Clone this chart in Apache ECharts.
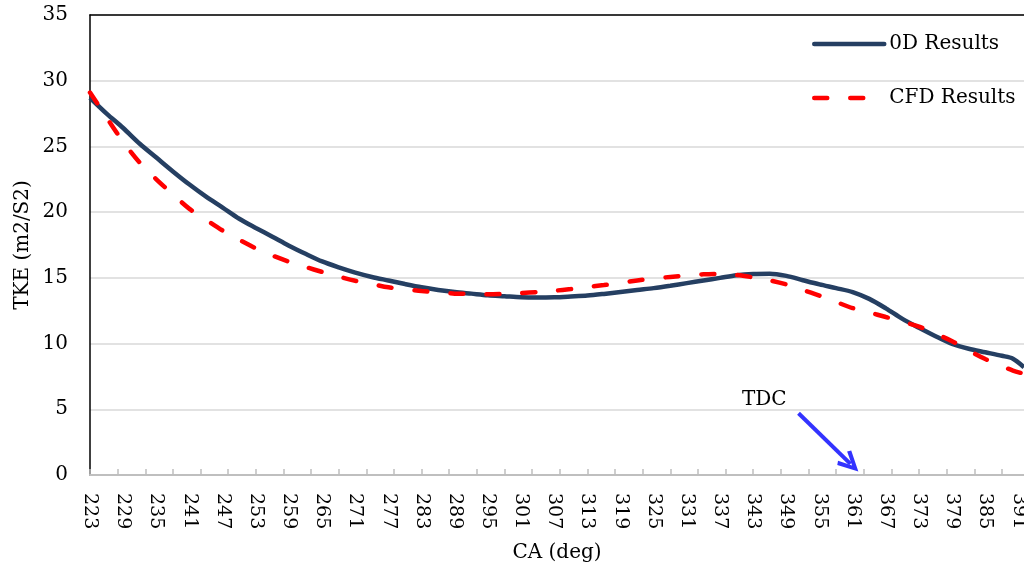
<!DOCTYPE html>
<html>
<head>
<meta charset="utf-8">
<script src="https://cdn.jsdelivr.net/npm/echarts@6/dist/echarts.min.js"></script>
<style>
html,body{margin:0;padding:0;background:#fff;}
#chart{width:1024px;height:569px;}
</style>
</head>
<body>
<div id="chart"></div>
<script>
// Crank angle categories for the axis (1 deg steps)
var caStart = 223, caEnd = 392;
var categories = [];
for (var c = caStart; c <= caEnd; c++) categories.push(String(c));

var angles = [223,226,229,232,235,238,241,244,247,250,253,256,259,262,265,268,271,274,277,280,283,286,289,292,295,298,301,304,307,310,313,316,319,322,325,328,331,334,337,340,343,346,349,352,355,358,361,364,367,370,373,376,379,382,385,388,390,392];
var od  = [28.7,27.5,26.4,25.2,24.15,23.1,22.1,21.18,20.35,19.5,18.8,18.13,17.45,16.83,16.25,15.8,15.4,15.07,14.8,14.53,14.28,14.08,13.92,13.8,13.68,13.6,13.52,13.5,13.52,13.58,13.65,13.78,13.93,14.08,14.22,14.4,14.6,14.8,15.0,15.2,15.3,15.32,15.15,14.82,14.5,14.22,13.92,13.4,12.68,11.88,11.2,10.56,9.98,9.61,9.34,9.07,8.85,8.2];
var cfd = [29.1,27.2,25.35,23.77,22.5,21.35,20.25,19.42,18.6,17.9,17.25,16.7,16.23,15.83,15.45,15.1,14.78,14.53,14.28,14.14,14.0,13.9,13.8,13.78,13.75,13.78,13.84,13.92,14.02,14.15,14.3,14.45,14.62,14.8,14.95,15.07,15.18,15.27,15.3,15.22,15.04,14.81,14.5,14.08,13.65,13.17,12.7,12.37,12.02,11.67,11.29,10.75,10.18,9.47,8.82,8.28,7.95,7.7];

// TDC annotation (data coordinates)
var tdcLabel = [345.0, 5.7];
var tdcArrowStart = [351.2, 4.7];
var tdcArrowEnd = [360.6, 0.85];

var yTicks = {min: 0, max: 35, interval: 5};

function pairs(xs, ys){ return xs.map(function(x,i){ return [x, ys[i]]; }); }

var FONT = 'DejaVu Serif';
var chart = echarts.init(document.getElementById('chart'), null, {renderer:'canvas'});
chart.setOption({
  animation: false,
  backgroundColor: '#ffffff',
  grid: {left: 90, right: 0, top: 15, bottom: 94, containLabel: false, outerBoundsMode: 'none'},
  legend: {
    data: ['0D Results', 'CFD Results'],
    orient: 'vertical',
    left: 807, top: 29,
    itemWidth: 70, itemHeight: 14, itemGap: 34,
    itemStyle: {opacity: 0},
    lineStyle: {width: 4.5, cap: 'round'},
    textStyle: {fontFamily: FONT, fontSize: 20, color: '#000'}
  },
  xAxis: [
    {
      type: 'category', data: categories, boundaryGap: false, position: 'bottom',
      name: 'CA (deg)', nameLocation: 'middle', nameGap: 68, nameMoveOverlap: false,
      nameTextStyle: {fontFamily: FONT, fontSize: 20, color: '#000'},
      axisLine: {show: true, lineStyle: {color: '#bfbfbf', width: 2}},
      axisTick: {show: true, interval: 4, inside: true, length: 6, lineStyle: {color: '#bfbfbf', width: 1.5}},
      axisLabel: {interval: 5, rotate: -90, margin: 18, align: 'left', verticalAlign: 'middle', fontFamily: FONT, fontSize: 19, color: '#000'},
      splitLine: {show: false}
    },
    {
      type: 'value', min: caStart, max: caEnd, show: false
    },
    {
      type: 'value', min: 0, max: 1, position: 'top',
      axisLine: {show: true, onZero: false, lineStyle: {color: '#000', width: 1.5}},
      axisTick: {show: false}, axisLabel: {show: false}, splitLine: {show: false}
    }
  ],
  yAxis: {
    type: 'value', min: yTicks.min, max: yTicks.max, interval: yTicks.interval,
    name: 'TKE (m2/S2)', nameLocation: 'middle', nameGap: 57, nameRotate: 90, nameMoveOverlap: false,
    nameTextStyle: {fontFamily: FONT, fontSize: 20, color: '#000'},
    axisLine: {show: true, lineStyle: {color: '#000', width: 1.5}},
    axisTick: {show: false},
    axisLabel: {margin: 22, fontFamily: FONT, fontSize: 20, color: '#000'},
    splitLine: {show: true, lineStyle: {color: '#d9d9d9', width: 1.5}}
  },
  series: [
    {
      name: '0D Results', type: 'line', xAxisIndex: 1,
      data: pairs(angles, od), smooth: 0.3, showSymbol: false, symbol: 'none',
      lineStyle: {color: '#253f62', width: 4.5},
      itemStyle: {color: '#253f62'},
      z: 3,
      markLine: {
        silent: true, animation: false,
        symbol: ['none', 'path://M10,0 L20,17 L16.5,19 L10,7.5 L3.5,19 L0,17 Z'],
        symbolSize: [20, 22],
        label: {show: false},
        lineStyle: {color: '#3333ff', width: 4, type: 'solid'},
        data: [[{coord: tdcArrowStart}, {coord: tdcArrowEnd}]]
      },
      markPoint: {
        silent: true, animation: false,
        symbol: 'circle', symbolSize: 0,
        label: {show: true, position: 'inside', formatter: 'TDC', fontFamily: FONT, fontSize: 20, color: '#000'},
        data: [{coord: tdcLabel}]
      }
    },
    {
      name: 'CFD Results', type: 'line', xAxisIndex: 1,
      data: pairs(angles, cfd), smooth: 0.3, showSymbol: false, symbol: 'none',
      lineStyle: {color: '#ff0000', width: 4.5, type: [13, 23], cap: 'round'},
      itemStyle: {color: '#ff0000'},
      z: 4
    }
  ]
});
</script>
</body>
</html>
